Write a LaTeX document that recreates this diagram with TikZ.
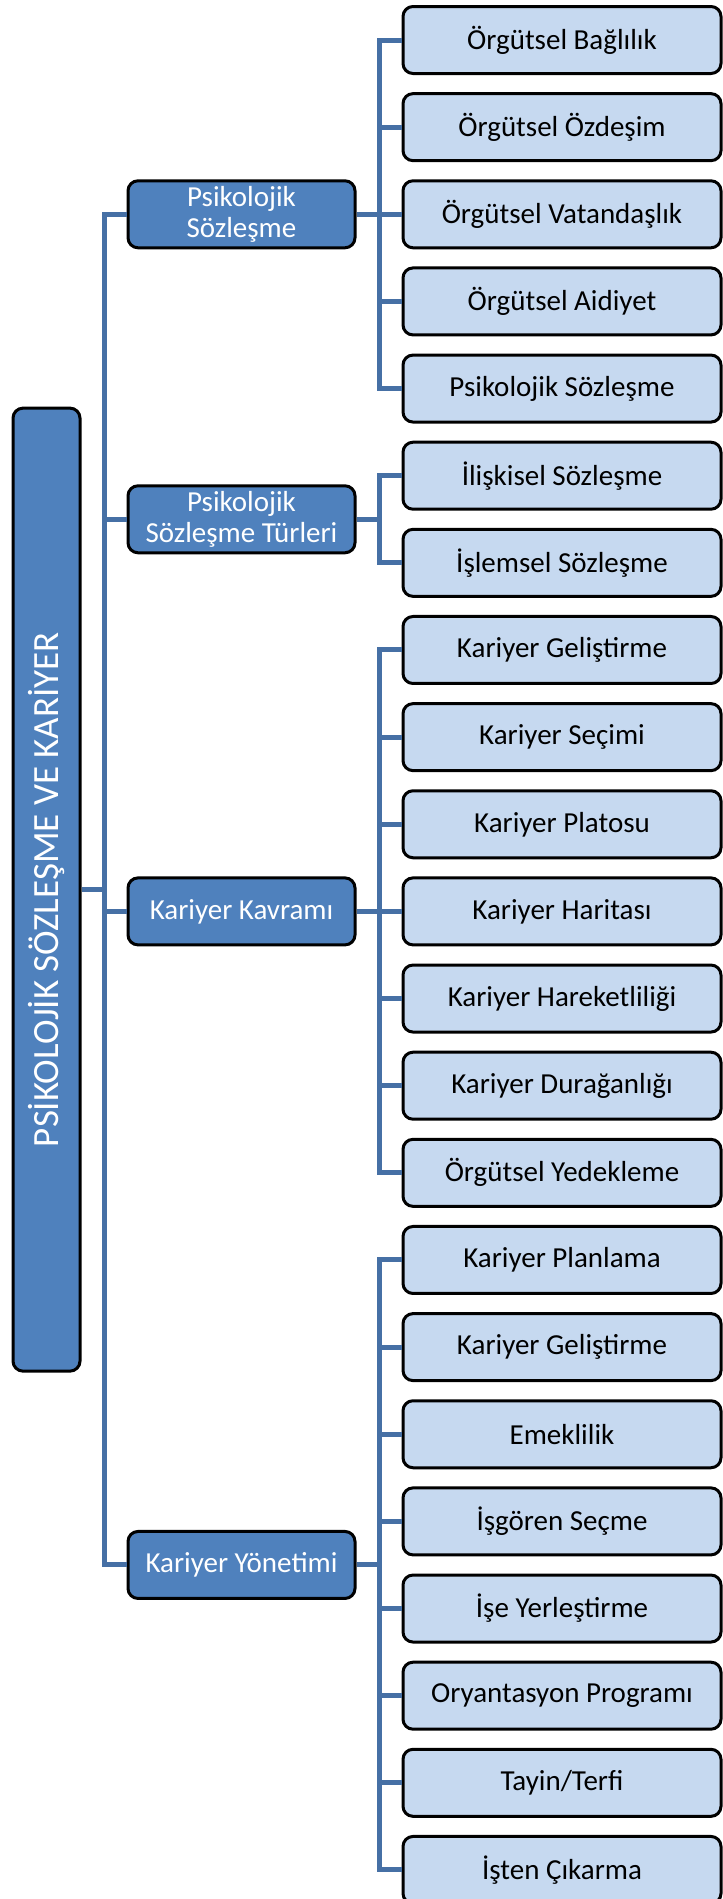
\documentclass[tikz,border=0pt]{standalone}
\usepackage{fontspec}
\usepackage{graphicx}
\setmainfont{Carlito}
\usetikzlibrary{positioning,calc}

\definecolor{darkbox}{RGB}{79,129,189}
\definecolor{lightbox}{RGB}{198,217,240}
\definecolor{linkblue}{RGB}{70,112,165}

\begin{document}
\begin{tikzpicture}[
    x=1pt, y=1pt,
    node distance=17.14pt,
    leaf/.style={rectangle, rounded corners=10pt, draw=black, line width=3pt, fill=lightbox, text=black, font=\fontsize{29}{31}\selectfont, minimum width=318pt, minimum height=67pt, inner sep=2pt},
    branch/.style={rectangle, rounded corners=10pt, draw=black, line width=3pt, fill=darkbox, text=white, font=\fontsize{29}{31}\selectfont, align=center, minimum width=227pt, minimum height=67pt, inner sep=2pt},
    rootbox/.style={rectangle, rounded corners=10pt, draw=black, line width=3pt, fill=darkbox, text=white, font=\fontsize{37}{40}\selectfont, minimum width=67pt, minimum height=963pt, inner sep=0pt},
    link/.style={draw=linkblue, line width=5pt}
]
\useasboundingbox (0,0) rectangle (723,-1899);

% leaves
\node[leaf] (l1) at (562,-40) {Örgütsel Bağlılık};
\node[leaf, below=of l1] (l2) {Örgütsel Özdeşim};
\node[leaf, below=of l2] (l3) {Örgütsel Vatandaşlık};
\node[leaf, below=of l3] (l4) {Örgütsel Aidiyet};
\node[leaf, below=of l4] (l5) {Psikolojik Sözleşme};
\node[leaf, below=of l5] (l6) {İlişkisel Sözleşme};
\node[leaf, below=of l6] (l7) {İşlemsel Sözleşme};
\node[leaf, below=of l7] (l8) {Kariyer Geliştirme};
\node[leaf, below=of l8] (l9) {Kariyer Seçimi};
\node[leaf, below=of l9] (l10) {Kariyer Platosu};
\node[leaf, below=of l10] (l11) {Kariyer Haritası};
\node[leaf, below=of l11] (l12) {Kariyer Hareketliliği};
\node[leaf, below=of l12] (l13) {Kariyer Durağanlığı};
\node[leaf, below=of l13] (l14) {Örgütsel Yedekleme};
\node[leaf, below=of l14] (l15) {Kariyer Planlama};
\node[leaf, below=of l15] (l16) {Kariyer Geliştirme};
\node[leaf, below=of l16] (l17) {Emeklilik};
\node[leaf, below=of l17] (l18) {İşgören Seçme};
\node[leaf, below=of l18] (l19) {İşe Yerleştirme};
\node[leaf, below=of l19] (l20) {Oryantasyon Programı};
\node[leaf, below=of l20] (l21) {Tayin/Terfi};
\node[leaf, below=of l21] (l22) {İşten Çıkarma};

% branches
\node[branch, left=45pt of l3] (p1) {Psikolojik\\Sözleşme};
\node[branch, left=45pt of $(l6.west)!0.5!(l7.west)$] (p2) {Psikolojik\\Sözleşme Türleri};
\node[branch, left=45pt of l11] (p3) {Kariyer Kavramı};
\node[branch, left=45pt of $(l18.west)!0.5!(l19.west)$] (p4) {Kariyer Yönetimi};

% root
\node[rootbox, left=45pt of $(p1.west)!0.5!(p4.west)$] (root) {\rotatebox{90}{PSİKOLOJİK SÖZLEŞME VE KARİYER}};

% connectors
\foreach \i in {1,...,4} {
    \draw[link] (root.east) -| ([xshift=-22.5pt]p\i.west) -- (p\i.west);
}
\foreach \i in {1,...,5} {
    \draw[link] (p1.east) -| ([xshift=-22.5pt]l\i.west) -- (l\i.west);
}
\foreach \i in {6,7} {
    \draw[link] (p2.east) -| ([xshift=-22.5pt]l\i.west) -- (l\i.west);
}
\foreach \i in {8,...,14} {
    \draw[link] (p3.east) -| ([xshift=-22.5pt]l\i.west) -- (l\i.west);
}
\foreach \i in {15,...,22} {
    \draw[link] (p4.east) -| ([xshift=-22.5pt]l\i.west) -- (l\i.west);
}

\end{tikzpicture}
\end{document}
